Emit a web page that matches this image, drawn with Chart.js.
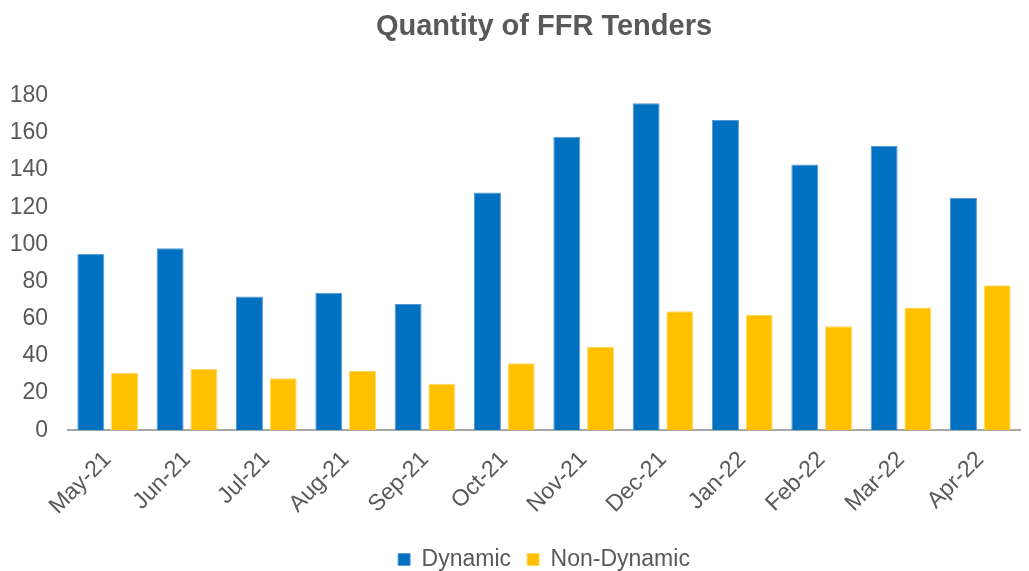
<!DOCTYPE html>
<html>
<head>
<meta charset="utf-8">
<script src="https://cdn.jsdelivr.net/npm/chart.js@4"></script>
<style>
  html, body { margin: 0; padding: 0; background: #fff; overflow: hidden; }
  #wrap { width: 1029px; height: 571px; position: relative; }
</style>
</head>
<body>
<div id="wrap"><canvas id="chart"></canvas></div>
<script>
// Data
const MONTHS = ["May-21", "Jun-21", "Jul-21", "Aug-21", "Sep-21", "Oct-21", "Nov-21", "Dec-21", "Jan-22", "Feb-22", "Mar-22", "Apr-22"];
const DYNAMIC = [95, 98, 72, 74, 68, 128, 158, 176, 167, 143, 153, 125];
const NON_DYNAMIC = [31, 33, 28, 32, 25, 36, 45, 64, 62, 56, 66, 78];

const BLUE = "#0070C0";
const YELLOW = "#FFC000";
const TEXT_COLOR = "#595959";
const FONT = "'Liberation Sans', Arial, sans-serif";

const chart = new Chart(document.getElementById("chart"), {
  type: "bar",
  data: {
    labels: MONTHS,
    datasets: [
      { label: "Dynamic", data: DYNAMIC, backgroundColor: BLUE, borderColor: "#5B9BD5", borderWidth: 1 },
      { label: "Non-Dynamic", data: NON_DYNAMIC, backgroundColor: YELLOW, borderColor: "#FFD966", borderWidth: 1 },
    ],
  },
  options: {
    responsive: true,
    maintainAspectRatio: false,
    animation: false,
    categoryPercentage: 0.85,
    barPercentage: 0.8,
    layout: { padding: { left: 8, right: 9, top: 0, bottom: -10 } },
    plugins: {
      title: {
        display: true,
        fullSize: false,
        text: "Quantity of FFR Tenders",
        color: TEXT_COLOR,
        font: { family: FONT, size: 29, weight: "bold" },
        padding: { top: 10, bottom: 51 },
      },
      legend: {
        position: "bottom",
        fullSize: false,
        labels: {
          color: TEXT_COLOR,
          font: { family: FONT, size: 23 },
          boxWidth: 12,
          boxHeight: 12,
          padding: 16,
        },
      },
      tooltip: { enabled: false },
    },
    scales: {
      x: {
        grid: { display: false, drawTicks: false },
        border: { display: true, color: "#A6A6A6", width: 2 },
        ticks: {
          color: TEXT_COLOR,
          font: { family: FONT, size: 23 },
          minRotation: 45,
          maxRotation: 45,
          padding: 16,
        },
        afterFit: (scale) => {
          scale.height -= 4;
        },
      },
      y: {
        min: 0,
        max: 180,
        grid: { display: false, drawTicks: false },
        border: { display: false },
        ticks: {
          stepSize: 20,
          color: TEXT_COLOR,
          font: { family: FONT, size: 23 },
          padding: 20,
        },
        // labels 38px wide + 20px gap to the plot
        afterFit: (scale) => {
          scale.width = 60;
        },
      },
    },
  },
});
</script>
</body>
</html>
